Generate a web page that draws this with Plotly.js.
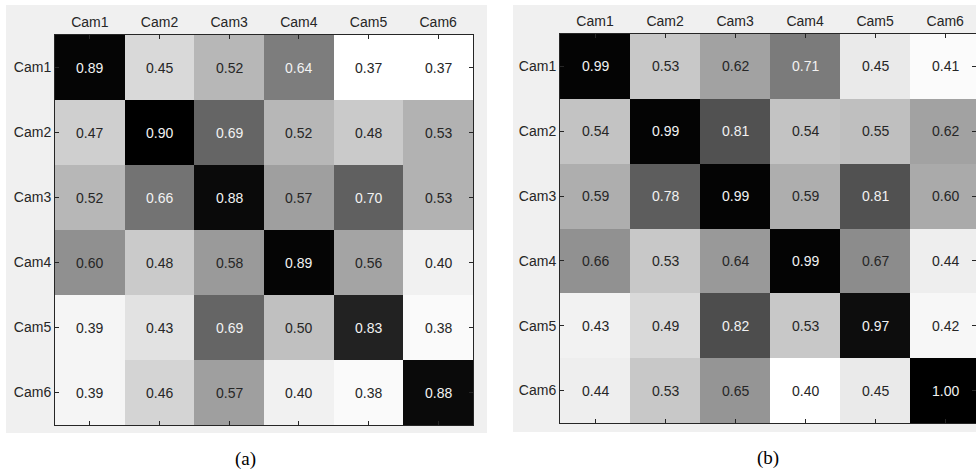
<!DOCTYPE html>
<html>
<head>
<meta charset="utf-8">
<script src="https://cdn.plot.ly/plotly-3.0.1.min.js"></script>
<style>
  html, body { margin: 0; padding: 0; background: #ffffff; }
  #chart { width: 976px; height: 470px; }
</style>
</head>
<body>
<div id="chart"></div>
<script>
// ---- data ----
const cams = ["Cam1", "Cam2", "Cam3", "Cam4", "Cam5", "Cam6"];

const valuesA = [
  [0.89, 0.45, 0.52, 0.64, 0.37, 0.37],
  [0.47, 0.90, 0.69, 0.52, 0.48, 0.53],
  [0.52, 0.66, 0.88, 0.57, 0.70, 0.53],
  [0.60, 0.48, 0.58, 0.89, 0.56, 0.40],
  [0.39, 0.43, 0.69, 0.50, 0.83, 0.38],
  [0.39, 0.46, 0.57, 0.40, 0.38, 0.88]
];

const valuesB = [
  [0.99, 0.53, 0.62, 0.71, 0.45, 0.41],
  [0.54, 0.99, 0.81, 0.54, 0.55, 0.62],
  [0.59, 0.78, 0.99, 0.59, 0.81, 0.60],
  [0.66, 0.53, 0.64, 0.99, 0.67, 0.44],
  [0.43, 0.49, 0.82, 0.53, 0.97, 0.42],
  [0.44, 0.53, 0.65, 0.40, 0.45, 1.00]
];

const panelLabels = ["(a)", "(b)"];

// ---- styling ----
const W = 976, H = 470;
const textDark = "#262626";
const fontFam = "'Liberation Sans', Arial, sans-serif";
const fs = 14;

function px2x(p) { return p / W; }
function px2y(p) { return (H - p) / H; }

function minMax(m) {
  let mn = Infinity, mx = -Infinity;
  m.forEach(r => r.forEach(v => { mn = Math.min(mn, v); mx = Math.max(mx, v); }));
  return [mn, mx];
}

const grayScale = [[0, "#ffffff"], [1, "#000000"]];

function heat(z, xa, ya) {
  const [mn, mx] = minMax(z);
  return {
    type: "heatmap",
    x: cams, y: cams, z: z,
    zmin: mn, zmax: mx,
    colorscale: grayScale,
    showscale: false,
    xaxis: xa, yaxis: ya,
    hoverinfo: "skip",
    xgap: 0, ygap: 0
  };
}

function cellAnnotations(z, xa, ya) {
  const [mn, mx] = minMax(z);
  const out = [];
  z.forEach((row, i) => row.forEach((v, j) => {
    const f = (v - mn) / (mx - mn);
    out.push({
      xref: xa, yref: ya, x: cams[j], y: cams[i],
      xanchor: "center", yanchor: "middle",
      text: v.toFixed(2), showarrow: false,
      font: { family: fontFam, size: fs, color: f > 0.5 ? "#f2f2f2" : textDark }
    });
  }));
  return out;
}

const traces = [heat(valuesA, "x", "y"), heat(valuesB, "x2", "y2")];

function xAxis(domain, range, anchor) {
  return {
    domain: domain, range: range, anchor: anchor,
    side: "top", type: "category",
    ticks: "inside", ticklen: 4, tickwidth: 1, tickcolor: textDark,
    showline: true, linecolor: textDark, linewidth: 1, mirror: "ticks",
    showgrid: false, zeroline: false, fixedrange: true,
    ticklabelstandoff: 1,
    tickfont: { family: fontFam, size: fs, color: textDark }
  };
}
function yAxis(domain, anchor) {
  return {
    domain: domain, range: [5.5, -0.5], anchor: anchor, type: "category",
    ticks: "inside", ticklen: 4, tickwidth: 1, tickcolor: textDark,
    showline: true, linecolor: textDark, linewidth: 1, mirror: "ticks",
    showgrid: false, zeroline: false, fixedrange: true,
    tickfont: { family: fontFam, size: fs, color: textDark }
  };
}

const serif = "'Liberation Serif', 'Times New Roman', serif";

const layout = {
  width: W, height: H,
  margin: { l: 0, r: 0, t: 0, b: 0 },
  paper_bgcolor: "#ffffff",
  plot_bgcolor: "rgba(0,0,0,0)",
  showlegend: false,
  xaxis: xAxis([px2x(55), px2x(473)], [-0.5, 5.5], "y"),
  yaxis: yAxis([px2y(425), px2y(35)], "x"),
  xaxis2: xAxis([px2x(560), 1], [-0.5, 5.44], "y2"),
  yaxis2: yAxis([px2y(423), px2y(34)], "x2"),
  shapes: [
    { type: "rect", xref: "paper", yref: "paper", layer: "below",
      x0: px2x(6), x1: px2x(487), y0: px2y(433), y1: px2y(5),
      fillcolor: "#f0f0f0", line: { width: 0 } },
    { type: "rect", xref: "paper", yref: "paper", layer: "below",
      x0: px2x(513), x1: 1, y0: px2y(432), y1: px2y(5),
      fillcolor: "#f0f0f0", line: { width: 0 } }
  ],
  annotations: [
    ...cellAnnotations(valuesA, "x", "y"),
    ...cellAnnotations(valuesB, "x2", "y2"),
    { xref: "paper", yref: "paper", x: px2x(245), y: px2y(459), xanchor: "center", yanchor: "middle",
      text: panelLabels[0], showarrow: false, font: { family: serif, size: 19, color: "#000" } },
    { xref: "paper", yref: "paper", x: px2x(768), y: px2y(458), xanchor: "center", yanchor: "middle",
      text: panelLabels[1], showarrow: false, font: { family: serif, size: 19, color: "#000" } }
  ]
};

Plotly.newPlot("chart", traces, layout, { displayModeBar: false, staticPlot: true });
</script>
</body>
</html>
